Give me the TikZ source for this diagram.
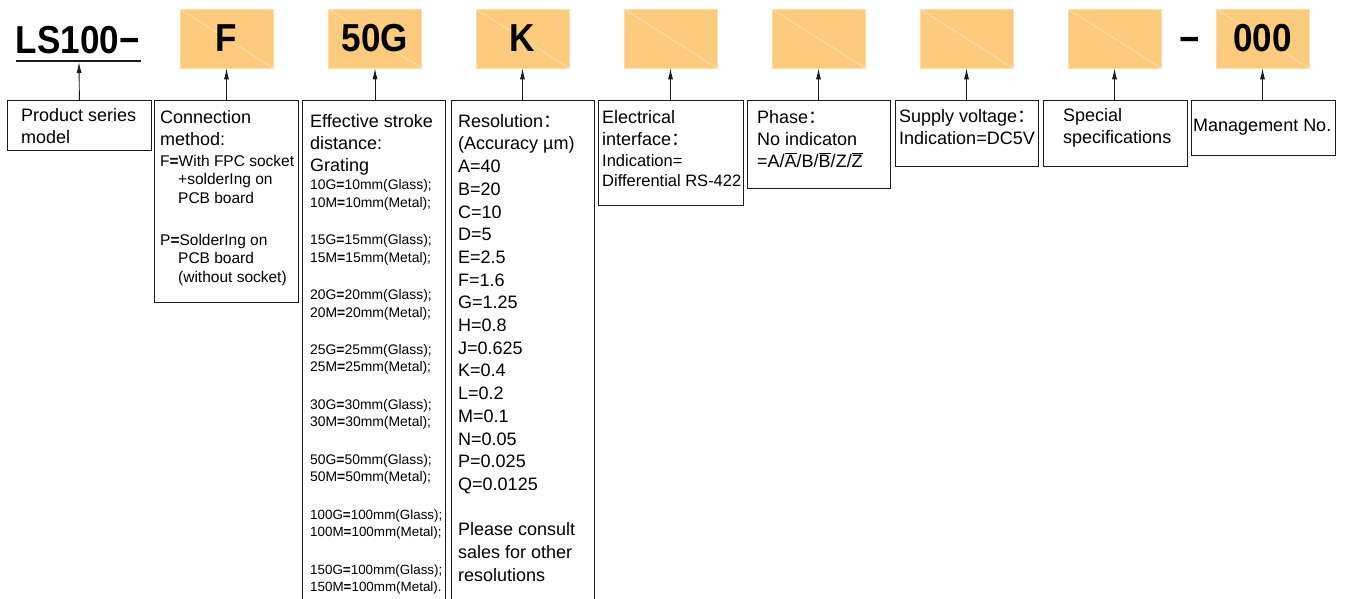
\documentclass[tikz,border=0pt]{standalone}
\usepackage{fontspec}
\setmainfont{Liberation Sans}
\newfontfamily\codefont[FakeStretch=0.9]{Liberation Sans}
\newfontfamily\cjkfont{Noto Sans CJK SC}
\usetikzlibrary{arrows.meta}
\definecolor{codeorange}{HTML}{FDCB7D}
\definecolor{codeedge}{HTML}{FEDDA8}
\definecolor{lineclr}{HTML}{1A1A1A}
\newcommand{\fwcolon}{{\cjkfont ：}}
\newcommand{\ovl}[1]{$\overline{\mbox{#1}}$}
\newcommand{\bq}{\textbf{=}}
\newcommand{\fst}{\rule{0pt}{14pt}}
\newcommand{\sst}{\rule{0pt}{12pt}}
\newcommand{\tst}{\rule{0pt}{11pt}}
\tikzset{
  codebox/.style={fill=codeorange, draw=codeedge, line width=0.6pt,
    minimum width=93pt, minimum height=59pt, inner sep=0pt,
    font=\codefont\bfseries\fontsize{39}{39}\selectfont,
    path picture={\draw[white, opacity=0.55, line width=0.5pt]
      (path picture bounding box.north west) -- (path picture bounding box.south east);}},
  codetext/.style={inner sep=0pt, font=\codefont\bfseries\fontsize{39}{39}\selectfont},
  labelbox/.style={draw=lineclr, line width=0.8pt, inner sep=0pt, anchor=north west},
  bigtext/.style={anchor=north west, inner sep=0pt, align=left, font=\fontsize{18}{22}\selectfont},
  smalltext/.style={anchor=north west, inner sep=0pt, align=left, font=\fontsize{15.5}{18.7}\selectfont},
  arr/.style={draw=lineclr, line width=0.9pt, -{Latex[length=11pt,width=5pt]}}
}
\begin{document}
\begin{tikzpicture}[x=1pt, y=-1pt]
\useasboundingbox (0,0) rectangle (1346,598);
\clip (0,0) rectangle (1346,598);

% top code line
\node[codetext, anchor=base west] (ls) at (15.5,53.5) {LS100−};
\draw[lineclr, line width=1.3pt] (16,61) -- (141,61);
\coordinate (ul) at (79,62);
\node[codebox] (c1) at (226.5,38.5) {F};
\node[codebox] (c2) at (375,38.5) {50G};
\node[codebox] (c3) at (522.5,38.5) {K};
\node[codebox] (c4) at (670.5,38.5) {};
\node[codebox] (c5) at (818.5,38.5) {};
\node[codebox] (c6) at (966.5,38.5) {};
\node[codebox] (c7) at (1114.5,38.5) {};
\node[codetext, anchor=base] (dash) at (1190,52) {−};
\node[codebox] (c8) at (1262.5,38.5) {000};

% label boxes
\node[labelbox, minimum width=144pt, minimum height=50pt] (b1) at (7,100) {};
\node[labelbox, minimum width=144pt, minimum height=202pt] (b2) at (154,100) {};
\node[labelbox, minimum width=143pt, minimum height=520pt] (b3) at (302,100) {};
\node[labelbox, minimum width=143pt, minimum height=520pt] (b4) at (451,100) {};
\node[labelbox, minimum width=145pt, minimum height=105pt] (b5) at (598,100) {};
\node[labelbox, minimum width=143pt, minimum height=88pt] (b6) at (747,100) {};
\node[labelbox, minimum width=143pt, minimum height=66pt] (b7) at (895,100) {};
\node[labelbox, minimum width=144pt, minimum height=66pt] (b8) at (1043,100) {};
\node[labelbox, minimum width=144pt, minimum height=55pt] (b9) at (1191,100) {};

% arrows
\draw[arr] (b1.north) -- (ul);
\draw[arr] (c1.south |- b2.north) -- (c1.south);
\draw[arr] (c2.south |- b3.north) -- (c2.south);
\draw[arr] (c3.south |- b4.north) -- (c3.south);
\draw[arr] (c4.south |- b5.north) -- (c4.south);
\draw[arr] (c5.south |- b6.north) -- (c5.south);
\draw[arr] (c6.south |- b7.north) -- (c6.south);
\draw[arr] (c7.south |- b8.north) -- (c7.south);
\draw[arr] (c8.south |- b9.north) -- (c8.south);

% texts
\node[bigtext] (t1) at (21,107.7) {\fst Product series\\model};

\node[bigtext] (t2a) at (160,109) {\fst Connection\\method:};
\node[smalltext] (t2b) at (160,154) {\sst F\bq With FPC socket\\\hspace*{18pt}+solderIng on\\\hspace*{18pt}PCB board};
\node[smalltext] (t2c) at (160,233) {\sst P\bq SolderIng on\\\hspace*{18pt}PCB board\\\hspace*{18pt}(without socket)};

\node[bigtext] (t3a) at (310,113) {\fst Effective stroke\\distance:\\Grating};
\node[anchor=north west, inner sep=0pt, align=left, font=\fontsize{13.9}{17.5}\selectfont] (t3b) at (310,178.5)
 {\tst 10G\bq 10mm(Glass);\\10M\bq 10mm(Metal);\\[19.9pt]
  15G\bq 15mm(Glass);\\15M\bq 15mm(Metal);\\[19.9pt]
  20G\bq 20mm(Glass);\\20M\bq 20mm(Metal);\\[19.9pt]
  25G\bq 25mm(Glass);\\25M\bq 25mm(Metal);\\[19.9pt]
  30G\bq 30mm(Glass);\\30M\bq 30mm(Metal);\\[19.9pt]
  50G\bq 50mm(Glass);\\50M\bq 50mm(Metal);\\[19.9pt]
  {\fontsize{13.4}{17.5}\selectfont 100G\bq 100mm(Glass);}\\{\fontsize{13.4}{17.5}\selectfont 100M\bq 100mm(Metal);}\\[19.9pt]
  {\fontsize{13.4}{17.5}\selectfont 150G\bq 100mm(Glass);}\\{\fontsize{13.4}{17.5}\selectfont 150M\bq 100mm(Metal).}};

\node[anchor=north west, inner sep=0pt, align=left, font=\fontsize{18}{22.7}\selectfont] (t4) at (458,113)
 {\fst Resolution\fwcolon\\(Accuracy µm)\\A=40\\B=20\\C=10\\D=5\\E=2.5\\F=1.6\\G=1.25\\H=0.8\\J=0.625\\K=0.4\\L=0.2\\M=0.1\\N=0.05\\P=0.025\\Q=0.0125\\[22.7pt]Please consult\\sales for other\\resolutions};

\node[bigtext] (t5a) at (602,109) {\fst Electrical\\interface\fwcolon};
\node[anchor=north west, inner sep=0pt, align=left, font=\fontsize{16.5}{20.7}\selectfont] (t5b) at (602,154) {\sst Indication=\\Differential RS-422};

\node[bigtext] (t6) at (757,109) {\fst Phase\fwcolon\\No indicaton\\=A/\ovl{A}/B/\ovl{B}/Z/\ovl{Z}};
\node[bigtext] (t7) at (899,108.7) {\fst Supply voltage\fwcolon\\Indication=DC5V};
\node[bigtext] (t8) at (1063,107.7) {\fst Special\\specifications};
\node[bigtext] (t9) at (1193,117.7) {\fst Management No.};
\end{tikzpicture}
\end{document}
